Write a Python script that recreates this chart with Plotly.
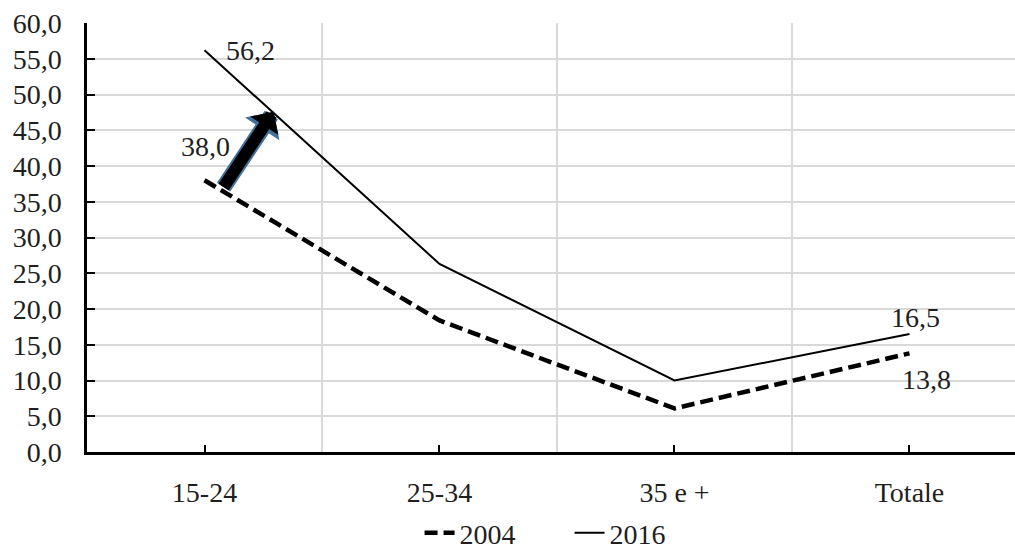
import plotly.graph_objects as go

# Age classes and values for the two survey years
categories = ["15-24", "25-34", "35 e +", "Totale"]
values_2004 = [38.0, 18.4, 6.1, 13.8]
values_2016 = [56.2, 26.3, 10.0, 16.5]
y_ticks = [0, 5, 10, 15, 20, 25, 30, 35, 40, 45, 50, 55, 60]

FONT = "Liberation Serif, serif"
TXT = "#1f1f1f"
GRID = "#d9d9d9"
FS = 28

xpos = list(range(len(categories)))


def fmt(v):
    return f"{v:.1f}".replace(".", ",")


fig = go.Figure()
fig.add_trace(go.Scatter(
    x=xpos, y=values_2004, name="2004", mode="lines",
    line=dict(color="black", width=4.5, dash="13px,6px"),
))
fig.add_trace(go.Scatter(
    x=xpos, y=values_2016, name="2016", mode="lines",
    line=dict(color="black", width=2),
))

# value labels at the first and last class
labels = [
    (0, values_2016[0], 46, 0),
    (0, values_2004[0], 1, 34),
    (3, values_2016[3], 6, 17),
    (3, values_2004[3], 17, -26),
]
for xi, v, dx, dy in labels:
    fig.add_annotation(
        x=xi, y=v, text=fmt(v), showarrow=False,
        xanchor="center", yanchor="middle", xshift=dx, yshift=dy,
        font=dict(family=FONT, size=FS, color=TXT),
    )

# block arrow showing the rise from 2004 to 2016 in the youngest class
tip_x, tip_y = 0.294, 47.6
for col, w, size in (("#41719c", 16, 0.43), ("black", 12, 0.47)):
    fig.add_annotation(
        x=tip_x, y=tip_y, ax=-51, ay=77, axref="pixel", ayref="pixel",
        text="", showarrow=True, arrowhead=1, arrowsize=size,
        arrowwidth=w, arrowcolor=col,
    )

fig.update_layout(
    width=1015, height=558,
    margin=dict(l=87, r=0, t=23, b=101),
    paper_bgcolor="white", plot_bgcolor="white",
    separators=",.",
    font=dict(family=FONT, size=FS, color=TXT),
    showlegend=True,
    legend=dict(
        orientation="h", x=0.52, xanchor="center", y=-0.19, yanchor="middle",
        font=dict(family=FONT, size=FS, color=TXT), entrywidth=105,
    ),
    xaxis=dict(
        range=[-0.5, 3.449], tickmode="array", tickvals=xpos, ticktext=categories,
        showgrid=False, zeroline=False,
        showline=True, linecolor="black", linewidth=2.5,
        ticks="inside", ticklen=7, tickwidth=1.5, tickcolor="black",
        ticklabelstandoff=14,
        minor=dict(tickvals=[0.5, 1.5, 2.5], showgrid=True, gridcolor=GRID, gridwidth=1.5, ticks=""),
        tickfont=dict(family=FONT, size=FS, color=TXT),
    ),
    yaxis=dict(
        range=[0, 60], tickmode="array", tickvals=y_ticks, tickformat=".1f",
        showgrid=True, gridcolor=GRID, gridwidth=1.5, zeroline=False,
        showline=True, linecolor="black", linewidth=2.5,
        ticks="inside", ticklen=8, tickwidth=1.5, tickcolor="black",
        ticklabelstandoff=17,
        tickfont=dict(family=FONT, size=FS, color=TXT),
    ),
)

fig.write_html("out.html")
